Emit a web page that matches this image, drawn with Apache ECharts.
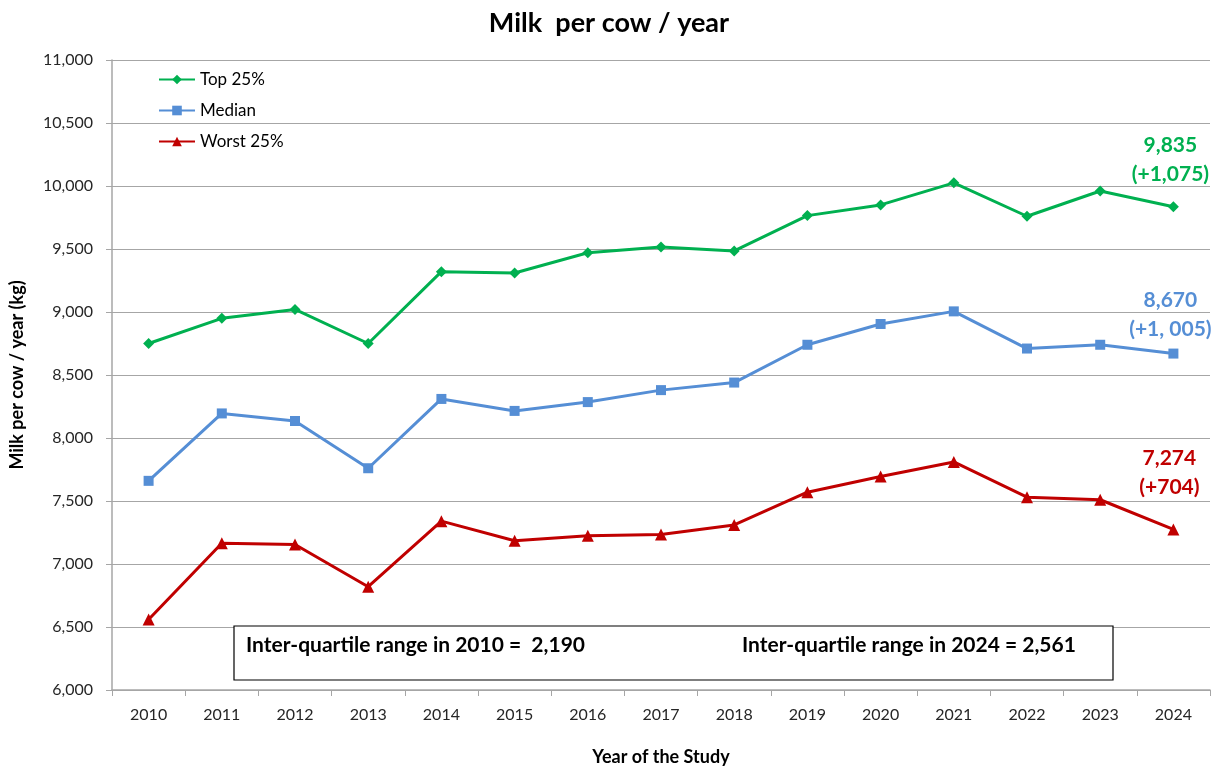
<!DOCTYPE html>
<html><head><meta charset="utf-8">
<script src="https://cdn.jsdelivr.net/npm/echarts@6/dist/echarts.min.js"></script>
<style>html,body{margin:0;padding:0;background:#fff}#c{width:1218px;height:771px}</style>
</head><body><div id="c"></div>
<script>
const years = ['2010','2011','2012','2013','2014','2015','2016','2017','2018','2019','2020','2021','2022','2023','2024'];
const top25 = [8750,8950,9020,8750,9320,9310,9470,9515,9485,9765,9850,10025,9760,9960,9835];
const median = [7660,8195,8135,7760,8310,8215,8285,8380,8440,8740,8905,9005,8710,8740,8670];
const worst25 = [6560,7165,7155,6820,7340,7185,7225,7235,7310,7570,7695,7810,7530,7510,7274];
const endLabels = {top:['9,835','(+1,075)'], median:['8,670','(+1, 005)'], worst:['7,274','(+704)']};
const iqrTexts = ['Inter-quartile range in 2010 =  2,190','Inter-quartile range in 2024 = 2,561'];
const FONT = 'Lato, "Open Sans", sans-serif';
const chart = echarts.init(document.getElementById('c'));
function mk(name, data, color, symbol, size, lbl, off){
  return {
    name, type:'line', data: data.map((v,i)=> i===data.length-1 ? {value:v, label:{
      show:true, position:'top', align:'center', offset:off, color, fontFamily:FONT, fontWeight:'bold', fontSize:21, lineHeight:29,
      formatter: lbl[0] + '\n' + lbl[1]}} : v),
    symbol, symbolSize:size, lineStyle:{color, width:3}, itemStyle:{color}, color,
    label:{show:false}, z:3
  };
}
chart.setOption({
  animation:false,
  title:{text:'Milk  per cow / year', left:'center', top:5, textStyle:{fontFamily:FONT, fontWeight:'bold', fontSize:27, color:'#000'}},
  legend:{orient:'vertical', left:153, top:66, itemWidth:36, itemHeight:12, itemGap:14,
    textStyle:{fontFamily:FONT, fontSize:17, color:'#000'},
    data:['Top 25%','Median','Worst 25%']},
  grid:{left:110, right:8, top:60, bottom:81},
  xAxis:{type:'category', data:years, boundaryGap:true,
    name:'Year of the Study', nameLocation:'middle', nameGap:58,
    nameTextStyle:{fontFamily:FONT, fontWeight:'bold', fontSize:18, color:'#000'},
    axisLine:{lineStyle:{color:'#A6A6A6', width:1.5}},
    axisTick:{show:true, alignWithLabel:false, length:6, lineStyle:{color:'#A6A6A6'}},
    axisLabel:{fontFamily:FONT, fontSize:16, color:'#262626', margin:17}},
  yAxis:{type:'value', min:6000, max:11000, interval:500,
    name:'Milk per cow / year (kg)', nameLocation:'middle', nameGap:86, nameRotate:90,
    nameTextStyle:{fontFamily:FONT, fontWeight:'bold', fontSize:18, color:'#000'},
    axisLine:{show:true, lineStyle:{color:'#A6A6A6', width:1.5}},
    axisTick:{show:true, length:6, lineStyle:{color:'#A6A6A6'}},
    splitLine:{lineStyle:{color:'#A6A6A6', width:1.2}},
    axisLabel:{fontFamily:FONT, fontSize:16, color:'#262626', margin:19,
      formatter:v=>v.toLocaleString('en-US')}},
  series:[
    mk('Top 25%', top25, '#00B050', 'diamond', 11, endLabels.top, [-3,-8]),
    mk('Median', median, '#558ED5', 'rect', 10, endLabels.median, [-3,0]),
    mk('Worst 25%', worst25, '#C00000', 'triangle', 12, endLabels.worst, [-4,-17])
  ],
  graphic:[
    {type:'rect', shape:{x:234, y:626, width:879, height:54}, style:{fill:'#fff', stroke:'#000', lineWidth:1.2}, z:10},
    {type:'text', x:246, y:645, style:{text:iqrTexts[0], font:'bold 21px '+FONT, fill:'#000', textVerticalAlign:'middle'}, z:11},
    {type:'text', x:742, y:645, style:{text:iqrTexts[1], font:'bold 21px '+FONT, fill:'#000', textVerticalAlign:'middle'}, z:11}
  ]
});
</script></body></html>
